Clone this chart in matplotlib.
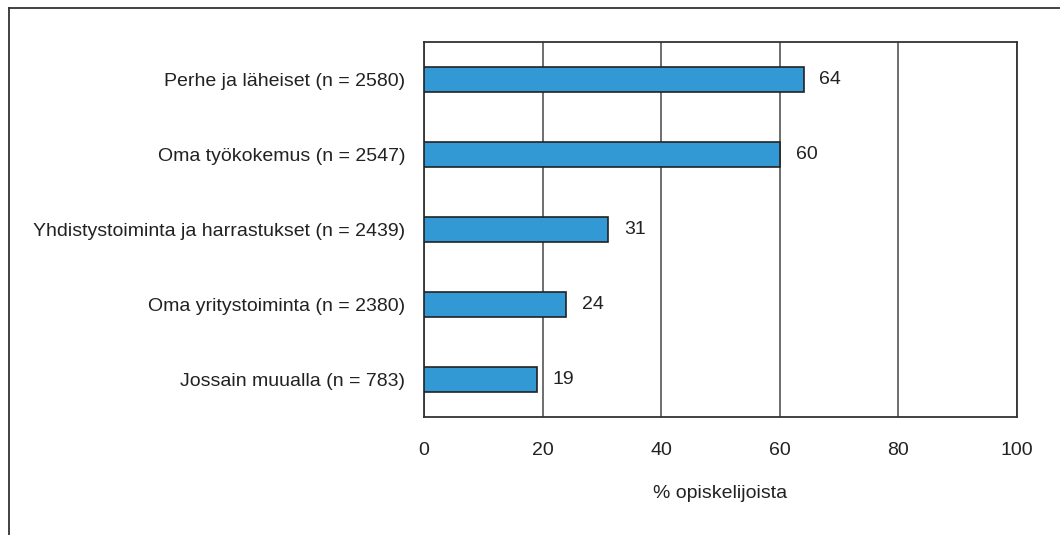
import matplotlib.pyplot as plt
from matplotlib.lines import Line2D

# Tiedot
luokat = ['Perhe ja läheiset (n = 2580)',
          'Oma työkokemus (n = 2547)',
          'Yhdistystoiminta ja harrastukset (n = 2439)',
          'Oma yritystoiminta (n = 2380)',
          'Jossain muualla (n = 783)']
arvot = [64, 60, 31, 24, 19]
x_ticks = [0, 20, 40, 60, 80, 100]

plt.rcParams['font.family'] = ['Liberation Sans', 'DejaVu Sans']
fs = 14

fig = plt.figure(figsize=(10.6, 5.35), dpi=100)
ax = fig.add_axes([424 / 1060, 1 - 417 / 535, (1017 - 424) / 1060, (417 - 42) / 535])

y = list(range(len(luokat)))
ax.barh(y, arvot, height=0.34, color='#3399D4', edgecolor='#222222', linewidth=1.2, zorder=3)
for yi, v in zip(y, arvot):
    ax.annotate(str(v), (v, yi), xytext=(11.5, 0), textcoords='offset points',
                va='center', ha='left', fontsize=fs, color='#222222')

ax.set_xlim(0, 100)
ax.set_ylim(4.5, -0.5)
ax.set_xticks(x_ticks)
ax.set_xticklabels([str(t) for t in x_ticks], fontsize=fs, color='#222222')
ax.set_yticks(y)
ax.set_yticklabels(luokat, fontsize=fs, color='#222222')
ax.tick_params(axis='x', length=0, pad=18)
ax.tick_params(axis='y', length=0, pad=13.5)
ax.grid(axis='x', color='#555555', linewidth=1.2, zorder=1)
for s in ax.spines.values():
    s.set_color('#333333')
    s.set_linewidth(1.3)
ax.set_xlabel('% opiskelijoista', fontsize=fs, color='#222222', labelpad=19)

# ulkoreunus (ylä- ja vasen viiva)
fig.add_artist(Line2D([9 / 1060, 9 / 1060], [0, 1 - 8 / 535], color='#333333', linewidth=1.3))
fig.add_artist(Line2D([9 / 1060, 1], [1 - 8 / 535, 1 - 8 / 535], color='#333333', linewidth=1.3))

fig.savefig('out.png', dpi=100)
